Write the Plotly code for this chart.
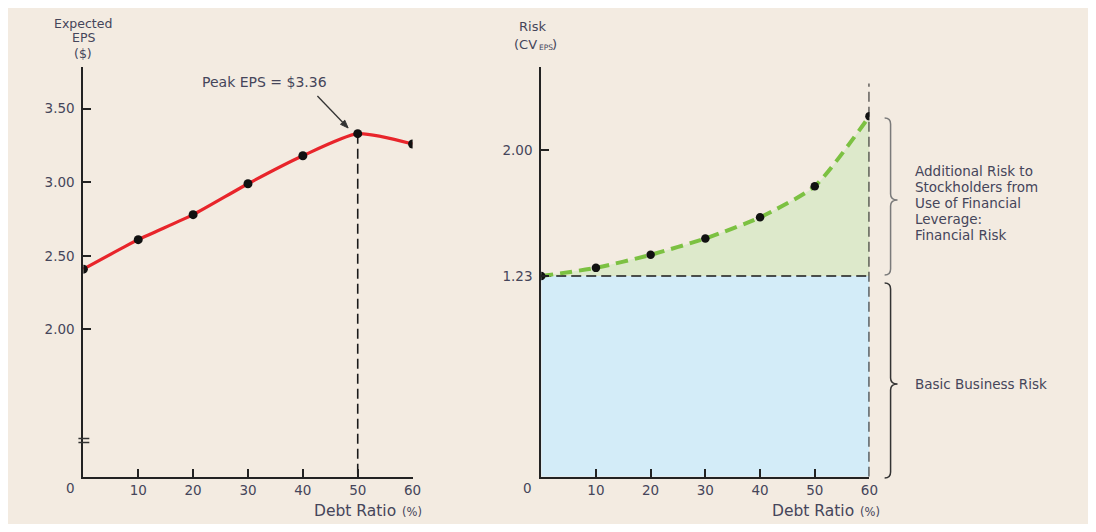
import math
import plotly.graph_objects as go

# ---------------- data ----------------
debt_ratio = [0, 10, 20, 30, 40, 50, 60]
expected_eps = [2.41, 2.61, 2.78, 2.99, 3.18, 3.33, 3.26]
risk_cv = [1.23, 1.28, 1.36, 1.46, 1.59, 1.78, 2.21]
eps_ticks = [2.00, 2.50, 3.00, 3.50]
eps_tick_text = ["2.00", "2.50", "3.00", "3.50"]
risk_ticks = [1.23, 2.00]
risk_tick_text = ["1.23", "2.00"]
x_ticks = [10, 20, 30, 40, 50, 60]
x_tick_text = ["10", "20", "30", "40", "50", "60"]
peak_ratio = 50
basic_risk = 1.23

OFF = 8
W, H = 1096 - 2 * OFF, 532 - 2 * OFF
BG = "#f3ebe1"
TXT = "#45455a"
FONT = "DejaVu Sans"

def px(x):
    return (x - OFF) / W

def py(y):
    return 1 - (y - OFF) / H

fig = go.Figure()

# ---------- left chart ----------
fig.add_trace(go.Scatter(
    x=[peak_ratio, peak_ratio], y=[expected_eps[debt_ratio.index(peak_ratio)], 1.0],
    mode="lines", line=dict(color="#1a1a1a", width=1.6, dash="10px,5px"),
    xaxis="x", yaxis="y", hoverinfo="skip", showlegend=False))
fig.add_trace(go.Scatter(
    x=debt_ratio, y=expected_eps, mode="lines+markers",
    line=dict(color="#e8252b", width=3.2, shape="spline", smoothing=0.6),
    marker=dict(color="#111", size=9),
    xaxis="x", yaxis="y", showlegend=False))

# ---------- right chart ----------
fig.add_trace(go.Scatter(
    x=debt_ratio, y=[basic_risk] * len(debt_ratio), mode="lines",
    line=dict(color="rgba(0,0,0,0)", width=0),
    xaxis="x2", yaxis="y2", hoverinfo="skip", showlegend=False))
fig.add_trace(go.Scatter(
    x=debt_ratio, y=risk_cv, mode="lines", fill="tonexty", fillcolor="#dde9cb",
    line=dict(color="rgba(0,0,0,0)", width=0, shape="spline", smoothing=0.6),
    xaxis="x2", yaxis="y2", hoverinfo="skip", showlegend=False))
fig.add_trace(go.Scatter(
    x=[0, 60], y=[basic_risk, basic_risk], mode="lines",
    line=dict(color="#1a1a1a", width=1.6, dash="10px,5px"),
    xaxis="x2", yaxis="y2", hoverinfo="skip", showlegend=False))
fig.add_trace(go.Scatter(
    x=[60, 60], y=[0, 2.41], mode="lines",
    line=dict(color="#1a1a1a", width=2, dash="10px,5px"),
    xaxis="x2", yaxis="y2", hoverinfo="skip", showlegend=False))
fig.add_trace(go.Scatter(
    x=debt_ratio, y=risk_cv, mode="lines+markers",
    line=dict(color="#7cc142", width=4, dash="12px,7px", shape="spline", smoothing=0.6),
    marker=dict(color="#111", size=8.5),
    xaxis="x2", yaxis="y2", showlegend=False))

shapes = [
    dict(type="rect", xref="x2", yref="y2", x0=0, x1=60, y0=0, y1=basic_risk,
         fillcolor="#d3ecf8", line=dict(width=0), layer="below"),
    dict(type="line", xref="paper", yref="paper", x0=px(79), x1=px(90), y0=py(438.5), y1=py(438.5),
         line=dict(color="#333", width=1.5)),
    dict(type="line", xref="paper", yref="paper", x0=px(79), x1=px(90), y0=py(442.5), y1=py(442.5),
         line=dict(color="#333", width=1.5)),
]

def brace(x0, xm, xt, ytop, ymid, ybot, color):
    r = 6
    pts = (f"M {px(x0)},{py(ytop)} Q {px(xm)},{py(ytop)} {px(xm)},{py(ytop + r)} "
           f"L {px(xm)},{py(ymid - r)} Q {px(xm)},{py(ymid)} {px(xt)},{py(ymid)} "
           f"Q {px(xm)},{py(ymid)} {px(xm)},{py(ymid + r)} "
           f"L {px(xm)},{py(ybot - r)} Q {px(xm)},{py(ybot)} {px(x0)},{py(ybot)}")
    return dict(type="path", xref="paper", yref="paper", path=pts,
                line=dict(color=color, width=1.5))

shapes.append(brace(892, 898, 905, 118, 200, 275, "#7a7a7a"))
shapes.append(brace(892, 898, 905, 283, 384, 478, "#333"))

# arrow for peak label (line + head)
tail, tip = (320, 96), (351, 128)
dx, dy = tip[0] - tail[0], tip[1] - tail[1]
L = math.hypot(dx, dy)
ux, uy = dx / L, dy / L
bx, by = tip[0] - 8 * ux, tip[1] - 8 * uy
c1 = (bx - 3 * uy, by + 3 * ux)
c2 = (bx + 3 * uy, by - 3 * ux)
shapes.append(dict(type="line", xref="paper", yref="paper", x0=px(tail[0]), y0=py(tail[1]),
                   x1=px(bx), y1=py(by), line=dict(color="#333", width=1.3)))
shapes.append(dict(type="path", xref="paper", yref="paper",
                   path=f"M {px(tip[0])},{py(tip[1])} L {px(c1[0])},{py(c1[1])} "
                        f"L {px(c2[0])},{py(c2[1])} Z",
                   fillcolor="#333", line=dict(color="#333", width=1)))

ann = []
def txt(x, y, s, size=13, xanchor="center", color=TXT):
    ann.append(dict(x=px(x), y=py(y), xref="paper", yref="paper", text=s, showarrow=False,
                    xanchor=xanchor, yanchor="middle", font=dict(family=FONT, size=size, color=color)))

# axis titles
txt(84, 23, "Expected", 12.5)
txt(84, 38, "EPS", 12.5)
txt(84, 53, "($)", 12.5)
txt(537, 27, "Risk", 13)
txt(543, 44, "(CV", 13, xanchor="right")
txt(541.5, 47, "EPS", 7.5, xanchor="left")
txt(555, 44, ")", 13, xanchor="left")
txt(401, 511, "Debt Ratio", 15.5, xanchor="right")
txt(415, 512, "(%)", 11.5)
txt(863, 511, "Debt Ratio", 15.5, xanchor="right")
txt(877, 512, "(%)", 11.5)
# zero labels
txt(71, 488, "0", 13.5)
txt(532, 488, "0", 13.5)
# peak label
txt(267, 82, "Peak EPS = $3.36", 14)
# brace labels
for i, line in enumerate(["Additional Risk to", "Stockholders from", "Use of Financial",
                          "Leverage:", "Financial Risk"]):
    txt(921, 171 + i * 16, line, 13.5, xanchor="left")
txt(921, 384, "Basic Business Risk", 13.5, xanchor="left")

axis_common = dict(showline=True, linecolor="#222", linewidth=2, ticks="inside",
                   ticklen=8, tickwidth=2, tickcolor="#222", showgrid=False, zeroline=False,
                   tickfont=dict(family=FONT, size=13.5, color=TXT), fixedrange=True)

fig.update_layout(
    width=W, height=H, margin=dict(l=0, r=0, t=0, b=0),
    paper_bgcolor=BG, plot_bgcolor="rgba(0,0,0,0)",
    shapes=shapes, annotations=ann, showlegend=False,
    xaxis=dict(domain=[px(84), px(416)], range=[0, 60], tickvals=x_ticks, ticktext=x_tick_text,
               anchor="y", **axis_common),
    yaxis=dict(domain=[py(476.7), py(67)], range=[1.0, 3.783], tickvals=eps_ticks,
               ticktext=eps_tick_text, anchor="x", ticklabelstandoff=4, **axis_common),
    xaxis2=dict(domain=[px(545.7), px(876.7)], range=[0, 60], tickvals=x_ticks,
                ticktext=x_tick_text, anchor="y2", **axis_common),
    yaxis2=dict(domain=[py(476.7), py(66.7)], range=[0, 2.513], tickvals=risk_ticks,
                ticktext=risk_tick_text, anchor="x2", ticklabelstandoff=4, **axis_common),
)

fig.write_html("out.html")
